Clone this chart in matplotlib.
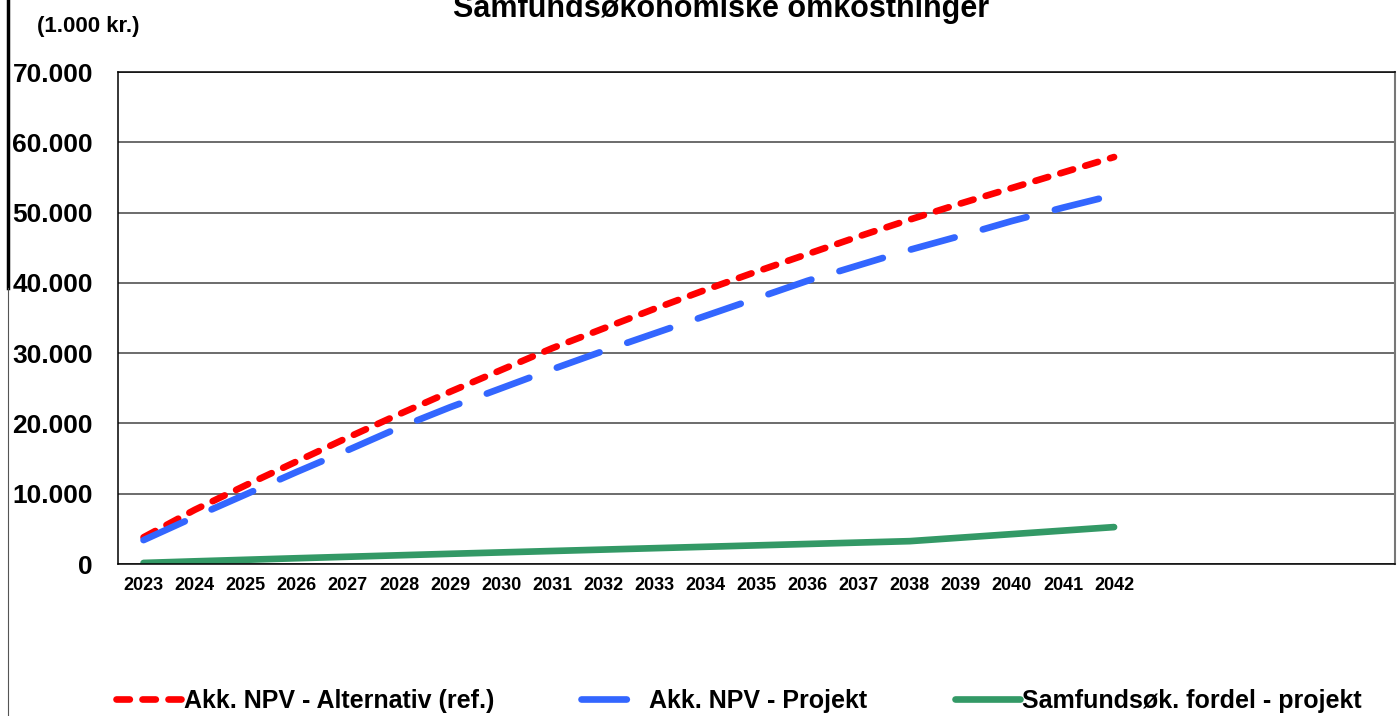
import matplotlib.pyplot as plt
from matplotlib.lines import Line2D

plt.rcParams['font.family'] = ['Liberation Sans', 'DejaVu Sans']
plt.rcParams['font.weight'] = 'bold'

# data (1.000 kr.)
years = ['2023', '2024', '2025', '2026', '2027', '2028', '2029', '2030', '2031', '2032',
         '2033', '2034', '2035', '2036', '2037', '2038', '2039', '2040', '2041', '2042']
empty_slots = ['', '', '', '', '']
npv_alt = [3800, 7700, 11200, 14600, 18000, 21300, 24500, 27600, 30700, 33500,
           36300, 39000, 41600, 44100, 46600, 49000, 51300, 53500, 55700, 57900]
npv_proj = [3400, 6700, 9900, 13100, 16200, 19400, 22300, 25000, 27700, 30300,
            32800, 35300, 37800, 40300, 42500, 44700, 46700, 48800, 50700, 52500]
fordel = [150, 380, 600, 820, 1030, 1240, 1450, 1650, 1850, 2050,
          2250, 2450, 2650, 2850, 3050, 3250, 3750, 4250, 4750, 5250]
y_ticks = [0, 10000, 20000, 30000, 40000, 50000, 60000, 70000]
y_labels = ['0', '10.000', '20.000', '30.000', '40.000', '50.000', '60.000', '70.000']

labels = ['Akk. NPV - Alternativ (ref.)', 'Akk. NPV - Projekt', 'Samfundsøk. fordel - projekt']

fig = plt.figure(figsize=(13.99, 7.16), dpi=100)
ax = fig.add_axes([118 / 1399, 1 - 564 / 716, 1277 / 1399, 492 / 716])

x = list(range(len(years)))
l1, = ax.plot(x, npv_alt, color='#FF0000', lw=4.8, dashes=(2.0, 1.9),
              dash_capstyle='round', solid_capstyle='round')
l2, = ax.plot(x, npv_proj, color='#3366FF', lw=4.8, dashes=(6.8, 4.4),
              dash_capstyle='round', solid_capstyle='round')
l3, = ax.plot(x, fordel, color='#339966', lw=4.8, solid_capstyle='round')

ax.set_xlim(-0.5, len(years) + len(empty_slots) - 0.5)
ax.set_xticks(range(len(years) + len(empty_slots)))
ax.set_xticklabels(years + empty_slots, fontsize=13, fontweight='bold')
ax.set_ylim(0, 70000)
ax.set_yticks(y_ticks)
ax.set_yticklabels(y_labels, fontsize=19, fontweight='bold')
ax.tick_params(axis='x', length=0, pad=9)
ax.tick_params(axis='y', length=0, pad=18)

ax.grid(axis='y', color='#444444', lw=1.1)
ax.set_axisbelow(True)
for side in ['left', 'bottom', 'top']:
    ax.spines[side].set_color('black')
    ax.spines[side].set_linewidth(1.1)
ax.spines['right'].set_color('#777777')
ax.spines['right'].set_linewidth(1.5)

fig.text(721 / 1399, 1 - 17 / 716, 'Samfundsøkonomiske omkostninger', ha='center',
         va='baseline', fontsize=22, fontweight='bold')
fig.text(37 / 1399, 1 - 32 / 716, '(1.000 kr.)', ha='left', va='baseline',
         fontsize=16, fontweight='bold')

# border lines on the left edge
fig.add_artist(Line2D([8 / 1399, 8 / 1399], [1, 1 - 288 / 716], color='black', lw=2.5))
fig.add_artist(Line2D([8 / 1399, 8 / 1399], [1 - 288 / 716, 0], color='#555555', lw=0.8))

fig.legend([l1, l2, l3], labels, ncol=3, loc='center left',
           bbox_to_anchor=(116 / 1399, 1 - 701 / 716), frameon=False,
           prop={'size': 18, 'weight': 'bold'}, handlelength=2.6,
           handletextpad=0.1, columnspacing=3.5, borderpad=0, borderaxespad=0)

fig.savefig('out.png', dpi=100)
